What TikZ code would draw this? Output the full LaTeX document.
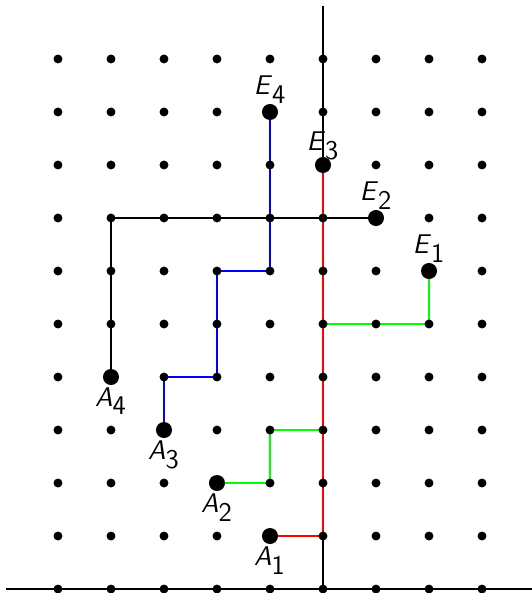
\documentclass[tikz,border=0pt]{standalone}
\begin{document}
\begin{tikzpicture}[x=1cm,y=1cm,
  gdot/.style={circle,fill=black,inner sep=0pt,minimum size=4.8pt},
  bigdot/.style={circle,fill=black,inner sep=0pt,minimum size=8.6pt},
  pathline/.style={line width=1.5pt},
  axis/.style={line width=0.6pt},
  lab/.style={font=\fontsize{14.5}{16}\selectfont\sffamily, inner sep=0pt}]
\useasboundingbox (-6.094,-0.075) rectangle (3.943,11.113);
% axes
\coordinate (xl) at (-5.98,0);
\coordinate (xr) at (3.943,0);
\coordinate (yt) at (0,11.0);
\coordinate (yb) at (0,0);
\draw[axis] (xl) -- (xr);
\draw[axis] (yt) -- (yb);
% endpoints
\coordinate (A1) at (-1,1); \coordinate (E3) at (0,8);
\coordinate (A2) at (-2,2); \coordinate (E1) at (2,6);
\coordinate (A3) at (-3,3); \coordinate (E4) at (-1,9);
\coordinate (A4) at (-4,4); \coordinate (E2) at (1,7);
% paths
\draw[pathline,green] (A2) -| (-1,3) -- (0,3) |- (2,5) -- (E1);
\draw[pathline,blue] (A3) |- (-2,4) |- (-1,6) -- (E4);
\draw[pathline,black] (A4) |- (E2);
\draw[pathline,red] (A1) -| (E3);
% grid dots
\foreach \i in {-5,...,3}
  \foreach \j in {0,...,10}
    \node[gdot] (d\i\j) at (\i,\j) {};
% big dots and labels
\foreach \p in {A1,A2,A3,A4,E1,E2,E3,E4}
  \node[bigdot] (n\p) at (\p) {};
\node[lab,below] (lA1) at ([yshift=-1pt]nA1.south) {\textit{A}$_{\textsf{1}}$};
\node[lab,below] (lA2) at ([yshift=-1pt]nA2.south) {\textit{A}$_{\textsf{2}}$};
\node[lab,below] (lA3) at ([yshift=-1pt]nA3.south) {\textit{A}$_{\textsf{3}}$};
\node[lab,below] (lA4) at ([yshift=-1pt]nA4.south) {\textit{A}$_{\textsf{4}}$};
\node[lab,above] (lE1) at ([yshift=0pt]nE1.north) {\textit{E}$_{\textsf{1}}$};
\node[lab,above] (lE2) at ([yshift=0pt]nE2.north) {\textit{E}$_{\textsf{2}}$};
\node[lab,above] (lE3) at ([yshift=-2pt]nE3.north) {\textit{E}$_{\textsf{3}}$};
\node[lab,above] (lE4) at ([yshift=0pt]nE4.north) {\textit{E}$_{\textsf{4}}$};
\end{tikzpicture}
\end{document}
